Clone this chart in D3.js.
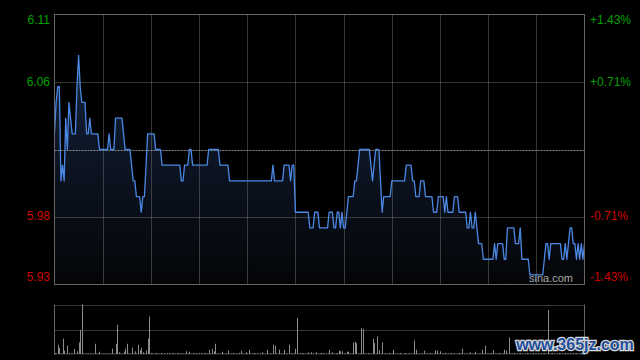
<!DOCTYPE html>
<html><head><meta charset="utf-8">
<script src="https://cdn.jsdelivr.net/npm/d3@7/dist/d3.min.js"></script>
<style>html,body{margin:0;padding:0;background:#000;}svg{display:block;}</style>
</head><body>
<script>
// ---- data ----
const prevClose = 6.02;
const pctTicks = [1.43, 0.71, -0.71, -1.43];
const priceLabels = ["6.11", "6.06", "5.98", "5.93"];
const pctLabels = ["+1.43%", "+0.71%", "-0.71%", "-1.43%"];
const totalMinutes = 330;
const timeGridMinutes = [30, 60, 90, 120, 150, 180, 210, 240, 270, 300];
const prices = [
6.03,6.05,6.06,6.06,6.00,6.01,6.00,6.04,6.02,6.05,
6.04,6.03,6.03,6.03,6.06,6.08,6.06,6.05,6.05,6.05,
6.03,6.03,6.04,6.03,6.03,6.03,6.03,6.03,6.02,6.02,
6.02,6.02,6.02,6.02,6.03,6.02,6.02,6.02,6.04,6.04,
6.04,6.04,6.04,6.03,6.02,6.02,6.02,6.02,6.01,6.00,
6.00,5.99,5.99,5.99,5.98,5.99,5.99,6.01,6.03,6.03,
6.03,6.03,6.03,6.02,6.02,6.02,6.02,6.01,6.01,6.01,
6.01,6.01,6.01,6.01,6.01,6.01,6.01,6.01,6.01,6.00,
6.00,6.01,6.01,6.01,6.02,6.02,6.01,6.01,6.01,6.01,
6.01,6.01,6.01,6.01,6.01,6.01,6.02,6.02,6.02,6.02,
6.02,6.02,6.02,6.01,6.01,6.01,6.01,6.01,6.01,6.00,
6.00,6.00,6.00,6.00,6.00,6.00,6.00,6.00,6.00,6.00,
6.00,6.00,6.00,6.00,6.00,6.00,6.00,6.00,6.00,6.00,
6.00,6.00,6.00,6.00,6.00,6.00,6.01,6.00,6.00,6.00,
6.00,6.00,6.00,6.01,6.01,6.01,6.01,6.00,6.01,6.01,
5.98,5.98,5.98,5.98,5.98,5.98,5.98,5.98,5.98,5.97,
5.97,5.97,5.98,5.98,5.98,5.97,5.97,5.97,5.97,5.97,
5.97,5.98,5.98,5.98,5.97,5.97,5.98,5.98,5.97,5.98,
5.97,5.97,5.98,5.99,5.99,5.99,5.99,6.00,6.00,6.01,
6.02,6.02,6.02,6.02,6.02,6.02,6.02,6.01,6.00,6.01,
6.02,6.02,6.02,6.00,5.98,5.99,5.99,5.99,5.99,5.99,
6.00,6.00,6.00,6.00,6.00,6.00,6.00,6.00,6.00,6.01,
6.01,6.01,6.01,6.00,6.00,5.99,5.99,5.99,6.00,6.00,
6.00,5.99,5.99,5.99,5.99,5.99,5.98,5.98,5.98,5.99,
5.99,5.99,5.99,5.98,5.99,5.98,5.98,5.98,5.98,5.99,
5.99,5.99,5.98,5.98,5.98,5.98,5.98,5.97,5.97,5.98,
5.97,5.97,5.98,5.97,5.96,5.96,5.96,5.95,5.95,5.95,
5.95,5.95,5.95,5.95,5.96,5.95,5.96,5.96,5.96,5.96,
5.95,5.95,5.97,5.97,5.97,5.97,5.97,5.96,5.96,5.96,
5.97,5.95,5.95,5.95,5.95,5.95,5.94,5.94,5.94,5.94,
5.94,5.94,5.94,5.94,5.94,5.95,5.96,5.96,5.95,5.96,
5.96,5.96,5.96,5.96,5.96,5.96,5.95,5.95,5.96,5.95,
5.96,5.97,5.97,5.96,5.96,5.95,5.96,5.95,5.96,5.95,
5.96];
const volumes = [
10,5,93,60,5,153,33,5,83,10,
5,5,50,5,27,117,243,497,5,5,
5,5,5,5,5,103,5,5,23,5,
5,5,5,5,5,5,53,5,103,293,
17,5,5,23,53,103,5,5,63,5,
27,5,93,37,63,17,5,33,153,377,
10,5,5,10,5,5,10,5,5,5,
10,5,5,5,10,5,5,10,5,5,
5,5,27,5,23,5,5,10,5,5,
10,5,5,5,10,5,43,5,53,27,
103,5,5,5,23,5,5,5,33,5,
5,10,5,5,5,10,33,5,5,17,
5,43,5,5,10,5,5,5,5,17,
5,5,43,5,5,5,93,83,5,5,
43,5,5,43,5,5,93,5,5,5,
53,363,5,5,10,5,5,5,17,5,
17,5,5,17,5,5,10,5,5,5,
5,43,5,17,5,5,10,33,27,27,
5,5,23,23,5,5,117,123,110,5,
5,260,253,5,5,10,5,5,153,110,
5,177,37,5,117,5,5,5,10,5,
5,43,5,5,5,10,5,5,10,5,
5,5,5,5,137,43,5,5,5,5,
33,5,5,5,10,5,5,37,33,5,
27,5,5,10,5,5,5,10,5,5,
5,5,10,5,53,5,5,5,5,17,
5,5,23,5,5,5,43,5,83,5,
5,5,10,37,5,5,5,10,5,5,
43,33,5,167,5,5,10,5,5,5,
10,5,5,5,10,5,5,5,10,5,
5,10,5,5,5,10,5,443,5,5,
10,5,5,5,10,5,5,5,10,5,
5,10,5,5,5,10,5,5,10,5,
5];

// ---- chart ----
const W = 640, H = 360;
const L = 54.5, R = 584.5, T = 14.5, B = 284.5;
const VT = 304.5, VB = 354.5;
const svg = d3.select("body").append("svg").attr("width", W).attr("height", H)
  .style("background", "#000");

const x = d3.scaleLinear().domain([0, totalMinutes]).range([L, R]);
const pMax = prevClose * (1 + pctTicks[0] / 100), pMin = prevClose * (1 + pctTicks[3] / 100);
const y = d3.scaleLinear().domain([pMin, pMax]).range([B, T]);
const yv = d3.scaleLinear().domain([0, d3.max(volumes)]).range([VB - 0.5, VT]);

const defs = svg.append("defs");
const grad = defs.append("linearGradient").attr("id", "areaGrad")
  .attr("gradientUnits", "userSpaceOnUse").attr("x1", 0).attr("x2", 0).attr("y1", T).attr("y2", B);
grad.append("stop").attr("offset", "0%").attr("stop-color", "#182a46");
grad.append("stop").attr("offset", "50%").attr("stop-color", "#0d1626");
grad.append("stop").attr("offset", "100%").attr("stop-color", "#040507");

const gridColor = "#6e6e6e";
// area + line
svg.append("path").datum(prices)
  .attr("d", d3.area().x((d, i) => x(i)).y0(B).y1(d => y(d)))
  .attr("fill", "url(#areaGrad)");

// horizontal grid (0.71 levels)
[pctTicks[1], pctTicks[2]].forEach(p => {
  const yy = Math.round(y(prevClose * (1 + p / 100))) + 0.5;
  svg.append("line").attr("x1", L).attr("x2", R).attr("y1", yy).attr("y2", yy)
    .attr("stroke", gridColor).attr("stroke-dasharray", "1,1");
});
// vertical grid
timeGridMinutes.forEach(m => {
  const xx = Math.round(x(m)) + 0.5;
  svg.append("line").attr("x1", xx).attr("x2", xx).attr("y1", T).attr("y2", B)
    .attr("stroke", gridColor).attr("stroke-dasharray", "1,1");
});
// prev close line
const yc = Math.round(y(prevClose)) + 0.5;
svg.append("line").attr("x1", L).attr("x2", R).attr("y1", yc).attr("y2", yc)
  .attr("stroke", "#8a8a8a").attr("stroke-dasharray", "2,1");

svg.append("path").datum(prices)
  .attr("d", d3.line().x((d, i) => x(i)).y(d => y(d)))
  .attr("fill", "none").attr("stroke", "#4a88e4").attr("stroke-width", 1.3)
  .attr("stroke-linejoin", "round");

// border
svg.append("rect").attr("x", L).attr("y", T).attr("width", R - L).attr("height", B - T)
  .attr("fill", "none").attr("stroke", "#666");

// labels
pctTicks.forEach((p, i) => {
  let yy = y(prevClose * (1 + p / 100));
  if (i === 0) yy = T + 6; if (i === 3) yy = B - 6.5;
  const col = p > 0 ? "#00a000" : "#d00000";
  svg.append("text").attr("x", 50).attr("y", yy).attr("text-anchor", "end")
    .attr("dominant-baseline", "middle").attr("font-family", "Liberation Sans, Arial, sans-serif")
    .attr("font-size", 12).attr("fill", col).text(priceLabels[i]);
  svg.append("text").attr("x", 590).attr("y", yy).attr("text-anchor", "start")
    .attr("dominant-baseline", "middle").attr("font-family", "Liberation Sans, Arial, sans-serif")
    .attr("font-size", 12).attr("fill", col).text(pctLabels[i]);
});

svg.append("text").attr("x", 573).attr("y", 279.5).attr("text-anchor", "end")
  .attr("dominant-baseline", "middle").attr("font-family", "Liberation Sans, Arial, sans-serif")
  .attr("font-size", 11).attr("fill", "#a8a8a8").text("sina.com");

// volume panel
[VT, (VT + VB) / 2].forEach(yy => {
  svg.append("line").attr("x1", L).attr("x2", R).attr("y1", Math.round(yy) + 0.5).attr("y2", Math.round(yy) + 0.5)
    .attr("stroke", gridColor).attr("stroke-dasharray", "1,1");
});
svg.append("line").attr("x1", L).attr("x2", R).attr("y1", VB - 0.5).attr("y2", VB - 0.5)
  .attr("stroke", "#3a3a3a");
svg.append("line").attr("x1", L).attr("x2", L).attr("y1", VT).attr("y2", VB).attr("stroke", "#666");
svg.append("line").attr("x1", R).attr("x2", R).attr("y1", VT).attr("y2", VB).attr("stroke", "#666");

svg.append("g").selectAll("line").data(volumes).join("line")
  .attr("x1", (d, i) => Math.round(x(i)) + 0.5).attr("x2", (d, i) => Math.round(x(i)) + 0.5)
  .attr("y1", VB - 0.5).attr("y2", d => yv(d))
  .attr("stroke", "#8c8c8c").attr("stroke-width", 1);

// site watermark
svg.append("text").attr("x", 575).attr("y", 346).attr("text-anchor", "middle")
  .attr("dominant-baseline", "middle").attr("font-family", "Liberation Sans, Arial, sans-serif")
  .attr("font-size", 16).attr("font-weight", "bold").attr("fill", "#1f4f9c")
  .attr("stroke", "#d8d8d8").attr("stroke-width", 2.5).attr("paint-order", "stroke")
  .text("www.365jz.com");
</script>
</body></html>
